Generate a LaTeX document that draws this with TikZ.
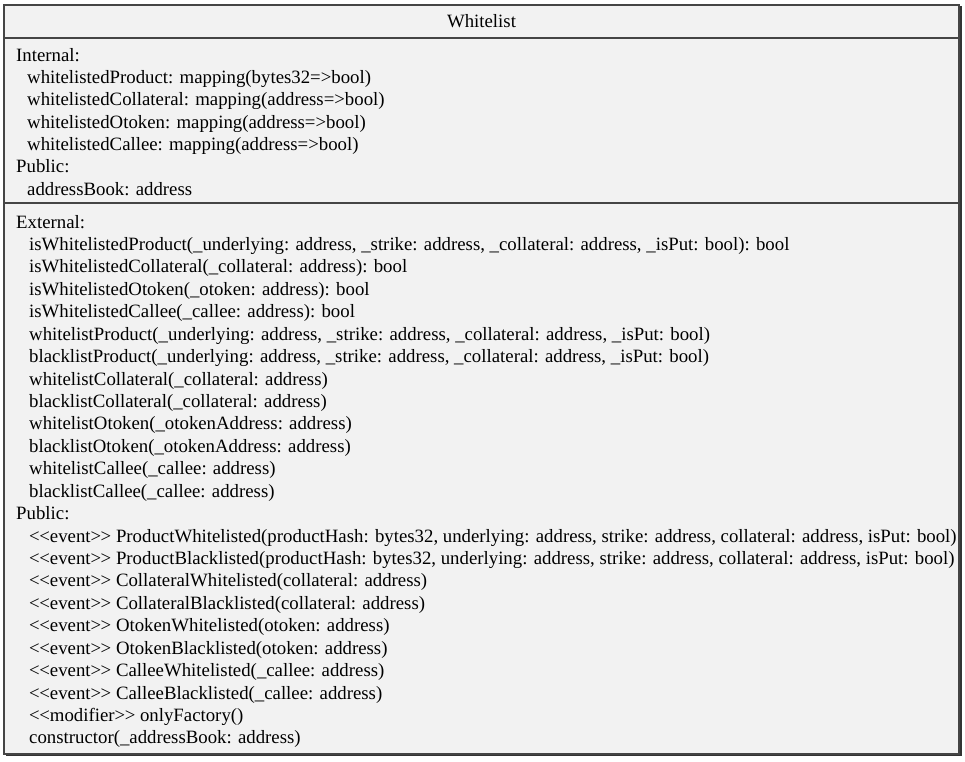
\documentclass[tikz,border=0pt]{standalone}
\usepackage{fontspec}
\setmainfont{Liberation Serif}
\definecolor{boxfill}{HTML}{F2F2F2}
\definecolor{boxline}{HTML}{454545}
\newcommand\stereo[1]{<\kern-0.5pt<#1>\kern-0.5pt>}
\begin{document}
\begin{tikzpicture}[x=1pt,y=-1pt,
  txt/.style={anchor=base west,inner sep=0pt,font=\fontsize{18.8}{22}\selectfont},
  sep/.style={draw=boxline,line width=1.6pt}]
\useasboundingbox (0,0) rectangle (965,761);
% class box with a thin drop edge on the right and bottom
\fill[boxfill] (4,5) rectangle (959,754);
\draw[draw=black!80,line width=2pt] (6,755) -- (960.5,755) -- (960.5,6);
\draw[sep] (4,5) rectangle (959,754);
\draw[sep] (4,38) -- (959,38);
\draw[sep] (4,203) -- (959,203);
% title
\node[txt,anchor=base] (title) at (481.5,27) {Whitelist};
% attributes
\def\ya{61}\def\da{22.35}
\node[txt] (a0) at (16,{\ya+0*\da}) {Internal:};
\node[txt] (a1) at (27,{\ya+1*\da}) {whitelistedProduct: mapping(bytes32=>bool)};
\node[txt] (a2) at (27,{\ya+2*\da}) {whitelistedCollateral: mapping(address=>bool)};
\node[txt] (a3) at (27,{\ya+3*\da}) {whitelistedOtoken: mapping(address=>bool)};
\node[txt] (a4) at (27,{\ya+4*\da}) {whitelistedCallee: mapping(address=>bool)};
\node[txt] (a5) at (16,{\ya+5*\da}) {Public:};
\node[txt] (a6) at (27,{\ya+6*\da}) {addressBook: address};
% operations
\def\yb{228}\def\db{22.43}
\node[txt] (o0) at (16,{\yb+0*\db}) {External:};
\node[txt] (o1) at (29,{\yb+1*\db}) {isWhitelistedProduct(\_underlying: address, \_strike: address, \_collateral: address, \_isPut: bool): bool};
\node[txt] (o2) at (29,{\yb+2*\db}) {isWhitelistedCollateral(\_collateral: address): bool};
\node[txt] (o3) at (29,{\yb+3*\db}) {isWhitelistedOtoken(\_otoken: address): bool};
\node[txt] (o4) at (29,{\yb+4*\db}) {isWhitelistedCallee(\_callee: address): bool};
\node[txt] (o5) at (29,{\yb+5*\db}) {whitelistProduct(\_underlying: address, \_strike: address, \_collateral: address, \_isPut: bool)};
\node[txt] (o6) at (29,{\yb+6*\db}) {blacklistProduct(\_underlying: address, \_strike: address, \_collateral: address, \_isPut: bool)};
\node[txt] (o7) at (29,{\yb+7*\db}) {whitelistCollateral(\_collateral: address)};
\node[txt] (o8) at (29,{\yb+8*\db}) {blacklistCollateral(\_collateral: address)};
\node[txt] (o9) at (29,{\yb+9*\db}) {whitelistOtoken(\_otokenAddress: address)};
\node[txt] (o10) at (29,{\yb+10*\db}) {blacklistOtoken(\_otokenAddress: address)};
\node[txt] (o11) at (29,{\yb+11*\db}) {whitelistCallee(\_callee: address)};
\node[txt] (o12) at (29,{\yb+12*\db}) {blacklistCallee(\_callee: address)};
\node[txt] (o13) at (16,{\yb+13*\db}) {Public:};
\node[txt] (o14) at (29,{\yb+14*\db}) {\stereo{event} ProductWhitelisted(productHash: bytes32, underlying: address, strike: address, collateral: address, isPut: bool)};
\node[txt] (o15) at (29,{\yb+15*\db}) {\stereo{event} ProductBlacklisted(productHash: bytes32, underlying: address, strike: address, collateral: address, isPut: bool)};
\node[txt] (o16) at (29,{\yb+16*\db}) {\stereo{event} CollateralWhitelisted(collateral: address)};
\node[txt] (o17) at (29,{\yb+17*\db}) {\stereo{event} CollateralBlacklisted(collateral: address)};
\node[txt] (o18) at (29,{\yb+18*\db}) {\stereo{event} OtokenWhitelisted(otoken: address)};
\node[txt] (o19) at (29,{\yb+19*\db}) {\stereo{event} OtokenBlacklisted(otoken: address)};
\node[txt] (o20) at (29,{\yb+20*\db}) {\stereo{event} CalleeWhitelisted(\_callee: address)};
\node[txt] (o21) at (29,{\yb+21*\db}) {\stereo{event} CalleeBlacklisted(\_callee: address)};
\node[txt] (o22) at (29,{\yb+22*\db}) {\stereo{modifier} onlyFactory()};
\node[txt] (o23) at (29,{\yb+23*\db}) {constructor(\_addressBook: address)};
\end{tikzpicture}
\end{document}
